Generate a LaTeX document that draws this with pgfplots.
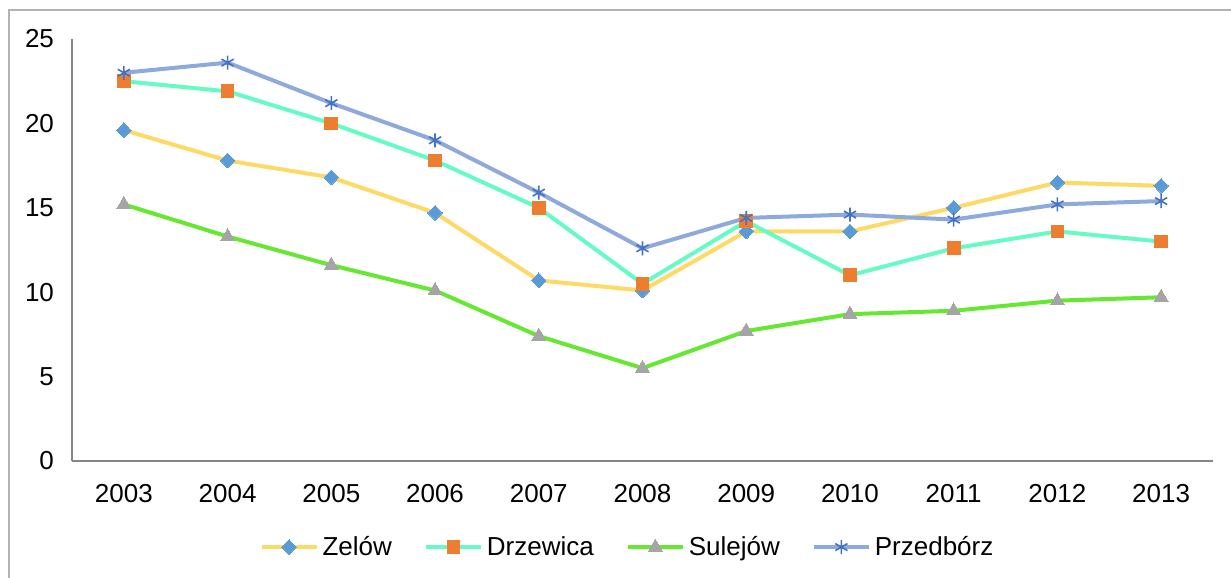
\documentclass[border=0pt]{standalone}
\usepackage{fontspec}
\setmainfont{Liberation Sans}
\usepackage{pgfplots}
\pgfplotsset{compat=1.18}
\definecolor{zline}{HTML}{FFD966}
\definecolor{zmark}{HTML}{5B9BD5}
\definecolor{dline}{HTML}{66FAC4}
\definecolor{dmark}{HTML}{ED7D31}
\definecolor{sline}{HTML}{66E833}
\definecolor{smark}{HTML}{A5A5A5}
\definecolor{pline}{HTML}{8EA9DB}
\definecolor{pmark}{HTML}{4472C4}
\definecolor{axgray}{HTML}{868686}
\definecolor{framegray}{HTML}{B3B3B3}
\begin{document}
\begin{tikzpicture}
\useasboundingbox (-36pt,-58.5pt) rectangle (579.5pt,230.5pt);
\draw[framegray, line width=0.75pt] (-31.5pt,-90pt) rectangle (620pt,225.5pt);
\begin{axis}[
  at={(0pt,0pt)}, anchor=south west,
  scale only axis, width=570.5pt, height=211pt,
  xmin=-0.5, xmax=10.5, ymin=0, ymax=25,
  axis x line=bottom, axis y line=left,
  axis line style={axgray, line width=1pt, -},
  xtick={0,...,10},
  xticklabels={2003,2004,2005,2006,2007,2008,2009,2010,2011,2012,2013},
  ytick={0,5,10,15,20,25},
  major tick length=0pt,
  tick label style={font=\fontsize{13}{15}\selectfont, black},
  /pgf/number format/assume math mode=true,
  xticklabel style={yshift=-8pt},
  yticklabel style={xshift=-5.5pt},
  clip=false,
  legend columns=4,
  legend image code/.code={%
    \draw[mark repeat=2, mark phase=2, #1] plot coordinates {(0pt,0pt) (13.75pt,0pt) (27.5pt,0pt)};},
  legend style={draw=none, fill=none, at={(0.4877,-0.204)}, anchor=center,
    font=\fontsize{13}{15}\selectfont,
    nodes={inner xsep=2pt, inner ysep=2pt},
    /tikz/every even column/.append style={column sep=14pt}},
  every axis plot/.append style={line width=2pt},
]
\addplot[zline, mark=diamond*, mark size=3.7pt, mark options={zmark, fill=zmark, line width=0pt, xscale=1.3, solid}]
coordinates {(0,19.6)(1,17.8)(2,16.8)(3,14.7)(4,10.7)(5,10.1)(6,13.6)(7,13.6)(8,15.0)(9,16.5)(10,16.3)};
\addlegendentry{Zelów}
\addplot[dline, mark=square*, mark size=3.2pt, mark options={dmark, fill=dmark, line width=0pt, solid}]
coordinates {(0,22.5)(1,21.9)(2,20.0)(3,17.8)(4,15.0)(5,10.5)(6,14.2)(7,11.0)(8,12.6)(9,13.6)(10,13.0)};
\addlegendentry{Drzewica}
\addplot[sline, mark=triangle*, mark size=4pt, mark options={smark, fill=smark, line width=0pt, solid}]
coordinates {(0,15.2)(1,13.3)(2,11.6)(3,10.1)(4,7.4)(5,5.5)(6,7.7)(7,8.7)(8,8.9)(9,9.5)(10,9.7)};
\addlegendentry{Sulejów}
\addplot[pline, mark=asterisk, mark size=3.5pt, mark options={pmark, line width=0.8pt, solid}]
coordinates {(0,23.0)(1,23.6)(2,21.2)(3,19.0)(4,15.9)(5,12.6)(6,14.4)(7,14.6)(8,14.3)(9,15.2)(10,15.4)};
\addlegendentry{Przedbórz}
\end{axis}
\end{tikzpicture}
\end{document}
